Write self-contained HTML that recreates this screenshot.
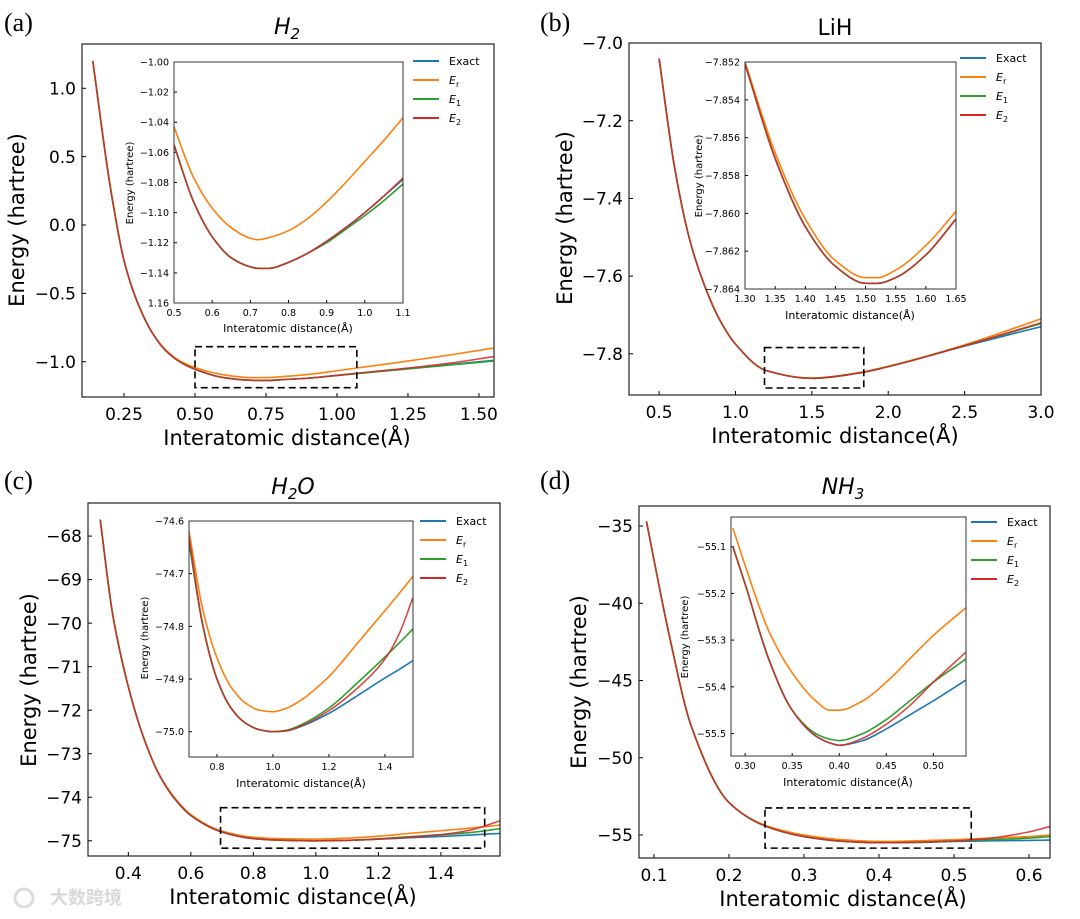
<!DOCTYPE html>
<html><head><meta charset="utf-8">
<style>
html,body{margin:0;padding:0;background:#fff;}
svg{display:block;font-family:"DejaVu Sans","Liberation Sans",sans-serif;}
</style></head>
<body>
<svg id="fig" width="1080" height="919" viewBox="0 0 1080 919" xmlns="http://www.w3.org/2000/svg"></svg>
<script>
// ===== Data: panel (a) H2 =====
const aMainX = [0.14,0.2,0.25,0.3,0.35,0.4,0.45,0.5,0.6,0.7,0.75,0.8,0.9,1.0,1.1,1.2,1.3,1.4,1.55];
const aMainExact = [1.2,0.3,-0.26,-0.58,-0.79,-0.925,-1.005,-1.055,-1.116,-1.136,-1.137,-1.132,-1.12,-1.10,-1.08,-1.06,-1.04,-1.02,-0.99];
const aMainEr = [1.2,0.3,-0.26,-0.58,-0.79,-0.92,-0.998,-1.043,-1.095,-1.117,-1.116,-1.11,-1.093,-1.066,-1.037,-1.01,-0.98,-0.95,-0.90];
const aMainE1 = [1.2,0.3,-0.26,-0.58,-0.79,-0.925,-1.005,-1.055,-1.116,-1.136,-1.137,-1.132,-1.12,-1.10,-1.081,-1.062,-1.043,-1.024,-0.995];
const aMainE2 = [1.2,0.3,-0.26,-0.58,-0.79,-0.925,-1.005,-1.055,-1.116,-1.136,-1.137,-1.132,-1.12,-1.10,-1.078,-1.057,-1.035,-1.01,-0.963];
const aInX = [0.5,0.55,0.6,0.65,0.7,0.72,0.75,0.8,0.85,0.9,0.95,1.0,1.05,1.1];
const aInExact = [-1.055,-1.092,-1.116,-1.130,-1.136,-1.137,-1.137,-1.133,-1.127,-1.119,-1.110,-1.100,-1.089,-1.078];
const aInEr = [-1.043,-1.076,-1.097,-1.110,-1.117,-1.118,-1.1165,-1.112,-1.104,-1.093,-1.080,-1.066,-1.052,-1.037];
const aInE1 = [-1.055,-1.092,-1.116,-1.130,-1.136,-1.137,-1.137,-1.133,-1.127,-1.120,-1.111,-1.102,-1.092,-1.081];
const aInE2 = [-1.055,-1.092,-1.116,-1.130,-1.136,-1.137,-1.137,-1.133,-1.127,-1.119,-1.110,-1.1,-1.089,-1.077];
const aMainXTicks = [0.25,0.5,0.75,1.0,1.25,1.5];
const aMainXLabels = ["0.25","0.50","0.75","1.00","1.25","1.50"];
const aMainYTicks = [1.0,0.5,0.0,-0.5,-1.0];
const aMainYLabels = ["1.0","0.5","0.0","\u22120.5","\u22121.0"];
const aInXTicks = [0.5,0.6,0.7,0.8,0.9,1.0,1.1];
const aInXLabels = ["0.5","0.6","0.7","0.8","0.9","1.0","1.1"];
const aInYTicks = [-1.00,-1.02,-1.04,-1.06,-1.08,-1.10,-1.12,-1.14,-1.16];
const aInYLabels = ["\u22121.00","\u22121.02","\u22121.04","\u22121.06","\u22121.08","\u22121.10","\u22121.12","\u22121.14","1.16"];
const aZoomBox = [0.5,1.07,-1.19,-0.89];

// ===== Data: panel (b) LiH =====
const bMainX = [0.5,0.6,0.7,0.8,0.9,1.0,1.2,1.5,1.8,2.0,2.5,3.0];
const bMainExact = [-7.04,-7.317,-7.506,-7.627,-7.715,-7.775,-7.843,-7.863,-7.85,-7.833,-7.78,-7.73];
const bMainEr = [-7.04,-7.317,-7.506,-7.627,-7.715,-7.775,-7.843,-7.8625,-7.849,-7.832,-7.777,-7.71];
const bMainE1 = [-7.04,-7.317,-7.506,-7.627,-7.715,-7.775,-7.843,-7.863,-7.85,-7.833,-7.779,-7.722];
const bMainE2 = [-7.04,-7.317,-7.506,-7.627,-7.715,-7.775,-7.843,-7.863,-7.85,-7.833,-7.779,-7.72];
const bInX = [1.30,1.35,1.40,1.45,1.50,1.52,1.55,1.60,1.65];
const bInExact = [-7.8521,-7.8571,-7.8607,-7.8628,-7.8637,-7.8637,-7.8634,-7.8622,-7.8603];
const bInEr = [-7.8520,-7.8568,-7.8603,-7.8625,-7.8634,-7.8634,-7.8630,-7.8617,-7.8599];
const bInE1 = [-7.8521,-7.8571,-7.8607,-7.8628,-7.8637,-7.8637,-7.8634,-7.8622,-7.8603];
const bInE2 = [-7.8521,-7.8571,-7.8607,-7.8628,-7.8637,-7.8637,-7.8634,-7.8622,-7.8603];
const bMainXTicks = [0.5,1.0,1.5,2.0,2.5,3.0];
const bMainXLabels = ["0.5","1.0","1.5","2.0","2.5","3.0"];
const bMainYTicks = [-7.0,-7.2,-7.4,-7.6,-7.8];
const bMainYLabels = ["\u22127.0","\u22127.2","\u22127.4","\u22127.6","\u22127.8"];
const bInXTicks = [1.30,1.35,1.40,1.45,1.50,1.55,1.60,1.65];
const bInXLabels = ["1.30","1.35","1.40","1.45","1.50","1.55","1.60","1.65"];
const bInYTicks = [-7.852,-7.854,-7.856,-7.858,-7.860,-7.862,-7.864];
const bInYLabels = ["\u22127.852","\u22127.854","\u22127.856","\u22127.858","\u22127.860","\u22127.862","\u22127.864"];
const bZoomBox = [1.19,1.84,-7.888,-7.784];

// ===== Data: panel (c) H2O =====
const cMainX = [0.31,0.35,0.4,0.45,0.5,0.55,0.6,0.7,0.8,0.9,1.0,1.1,1.2,1.3,1.4,1.5,1.59];
const cMainExact = [-67.62,-69.8,-71.46,-72.65,-73.5,-74.05,-74.42,-74.8,-74.95,-74.99,-75.0,-74.99,-74.965,-74.93,-74.9,-74.865,-74.83];
const cMainEr = [-67.62,-69.8,-71.46,-72.65,-73.49,-74.03,-74.4,-74.78,-74.92,-74.955,-74.962,-74.94,-74.895,-74.83,-74.77,-74.705,-74.64];
const cMainE1 = [-67.62,-69.8,-71.46,-72.65,-73.5,-74.05,-74.42,-74.8,-74.95,-74.99,-75.0,-74.99,-74.955,-74.905,-74.86,-74.805,-74.72];
const cMainE2 = [-67.62,-69.8,-71.46,-72.65,-73.5,-74.05,-74.42,-74.8,-74.95,-74.99,-75.0,-74.99,-74.96,-74.915,-74.86,-74.745,-74.54];
const cInX = [0.7,0.75,0.8,0.85,0.9,0.95,1.0,1.05,1.1,1.2,1.3,1.4,1.45,1.5];
const cInExact = [-74.64,-74.80,-74.90,-74.955,-74.983,-74.996,-75.0,-74.998,-74.99,-74.965,-74.932,-74.898,-74.882,-74.865];
const cInEr = [-74.62,-74.77,-74.86,-74.915,-74.945,-74.959,-74.962,-74.955,-74.94,-74.895,-74.833,-74.77,-74.738,-74.705];
const cInE1 = [-74.64,-74.80,-74.90,-74.955,-74.983,-74.996,-75.0,-74.997,-74.987,-74.955,-74.908,-74.858,-74.832,-74.805];
const cInE2 = [-74.63,-74.80,-74.90,-74.955,-74.983,-74.996,-75.0,-74.998,-74.989,-74.96,-74.918,-74.862,-74.815,-74.745];
const cMainXTicks = [0.4,0.6,0.8,1.0,1.2,1.4];
const cMainXLabels = ["0.4","0.6","0.8","1.0","1.2","1.4"];
const cMainYTicks = [-68,-69,-70,-71,-72,-73,-74,-75];
const cMainYLabels = ["\u221268","\u221269","\u221270","\u221271","\u221272","\u221273","\u221274","\u221275"];
const cInXTicks = [0.8,1.0,1.2,1.4];
const cInXLabels = ["0.8","1.0","1.2","1.4"];
const cInYTicks = [-74.6,-74.7,-74.8,-74.9,-75.0];
const cInYLabels = ["\u221274.6","\u221274.7","\u221274.8","\u221274.9","\u221275.0"];
const cZoomBox = [0.695,1.54,-75.17,-74.24];

// ===== Data: panel (d) NH3 =====
const dMainX = [0.09,0.1,0.12,0.15,0.2,0.25,0.3,0.35,0.4,0.45,0.5,0.55,0.6,0.628];
const dMainExact = [-34.7,-37.2,-42.0,-48.0,-52.9,-54.45,-55.1,-55.4,-55.5,-55.48,-55.42,-55.38,-55.35,-55.33];
const dMainEr = [-34.7,-37.2,-42.0,-48.0,-52.9,-54.4,-55.0,-55.3,-55.42,-55.38,-55.3,-55.2,-55.1,-55.0];
const dMainE1 = [-34.7,-37.2,-42.0,-48.0,-52.9,-54.45,-55.1,-55.4,-55.5,-55.47,-55.39,-55.3,-55.2,-55.1];
const dMainE2 = [-34.7,-37.2,-42.0,-48.0,-52.9,-54.45,-55.1,-55.4,-55.5,-55.47,-55.39,-55.2,-54.8,-54.45];
const dInX = [0.287,0.30,0.325,0.35,0.375,0.39,0.40,0.425,0.45,0.475,0.50,0.535];
const dInExact = [-55.10,-55.18,-55.34,-55.45,-55.505,-55.52,-55.525,-55.515,-55.49,-55.46,-55.43,-55.385];
const dInEr = [-55.06,-55.14,-55.28,-55.37,-55.43,-55.45,-55.45,-55.43,-55.39,-55.34,-55.29,-55.23];
const dInE1 = [-55.10,-55.18,-55.34,-55.45,-55.50,-55.512,-55.515,-55.50,-55.47,-55.43,-55.39,-55.34];
const dInE2 = [-55.10,-55.18,-55.34,-55.45,-55.505,-55.52,-55.525,-55.51,-55.48,-55.44,-55.39,-55.325];
const dMainXTicks = [0.1,0.2,0.3,0.4,0.5,0.6];
const dMainXLabels = ["0.1","0.2","0.3","0.4","0.5","0.6"];
const dMainYTicks = [-35,-40,-45,-50,-55];
const dMainYLabels = ["\u221235","\u221240","\u221245","\u221250","\u221255"];
const dInXTicks = [0.30,0.35,0.40,0.45,0.50];
const dInXLabels = ["0.30","0.35","0.40","0.45","0.50"];
const dInYTicks = [-55.1,-55.2,-55.3,-55.4,-55.5];
const dInYLabels = ["\u221255.1","\u221255.2","\u221255.3","\u221255.4","\u221255.5"];
const dZoomBox = [0.248,0.523,-55.85,-53.25];

const seriesNames = ["Exact","Er","E1","E2"];
const colors = ["#1f77b4","#ff7f0e","#2ca02c","#d62728"];

const NS = "http://www.w3.org/2000/svg";
const svg = document.getElementById("fig");
function el(tag, attrs, parent, text){
  const e = document.createElementNS(NS, tag);
  for (const k in attrs) e.setAttribute(k, attrs[k]);
  if (text !== undefined) e.textContent = text;
  (parent || svg).appendChild(e);
  return e;
}
function scale(d0,d1,r0,r1){ return v => r0 + (v-d0)/(d1-d0)*(r1-r0); }
// monotone cubic (Fritsch-Carlson) in screen space for smooth, overshoot-free curves
function smoothPath(pts){
  const n = pts.length;
  const dx=[], m=[], t=[];
  for (let i=0;i<n-1;i++){ dx.push(pts[i+1][0]-pts[i][0]); m.push((pts[i+1][1]-pts[i][1])/dx[i]); }
  t[0]=m[0]; t[n-1]=m[n-2];
  for (let i=1;i<n-1;i++){
    if (m[i-1]*m[i]<=0) t[i]=0;
    else { const w1=2*dx[i]+dx[i-1], w2=dx[i]+2*dx[i-1]; t[i]=(w1+w2)/(w1/m[i-1]+w2/m[i]); }
  }
  let d = "M"+pts[0][0].toFixed(2)+","+pts[0][1].toFixed(2);
  for (let i=0;i<n-1;i++){
    const h=dx[i];
    const c1=[pts[i][0]+h/3, pts[i][1]+t[i]*h/3];
    const c2=[pts[i+1][0]-h/3, pts[i+1][1]-t[i+1]*h/3];
    d += " C"+c1[0].toFixed(2)+","+c1[1].toFixed(2)+" "+c2[0].toFixed(2)+","+c2[1].toFixed(2)+" "+pts[i+1][0].toFixed(2)+","+pts[i+1][1].toFixed(2);
  }
  return d;
}

function drawAxes(g, box, dom, xt, xl, yt, yl, opt, prefix){
  const sx = scale(dom[0],dom[1],box[0],box[2]);
  const sy = scale(dom[2],dom[3],box[3],box[1]);
  const clipId = prefix+"-clip";
  const cp = el("clipPath",{id:clipId},g);
  el("rect",{x:box[0],y:box[1],width:box[2]-box[0],height:box[3]-box[1]},cp);
  const tl = opt.tick;
  xt.forEach((v,i)=>{
    const x = sx(v);
    const t = el("line",{x1:x,x2:x,y1:box[3],y2:box[3]-tl,stroke:"#000","stroke-width":1},g);
    
    
    const lb = el("text",{x:x,y:box[3]+opt.xlOff,"font-size":opt.fs,"text-anchor":"middle",fill:"#000"},g,xl[i]);
    
    
  });
  yt.forEach((v,i)=>{
    const y = sy(v);
    const t = el("line",{x1:box[0],x2:box[0]+tl,y1:y,y2:y,stroke:"#000","stroke-width":1},g);
    
    
    const lb = el("text",{x:box[0]-opt.ylOff,y:y+opt.fs*0.36,"font-size":opt.fs,"text-anchor":"end",fill:"#000"},g,yl[i]);
    
    
  });
  return {sx, sy, clipId};
}

function drawSeries(g, ax, xs, ys, idx, prefix, w){
  const pts = xs.map((x,i)=>[ax.sx(x), ax.sy(ys[i])]);
  const p = el("path",{d:smoothPath(pts),fill:"none",stroke:colors[idx],"stroke-width":w,"clip-path":"url(#"+ax.clipId+")","stroke-linejoin":"round"},g);
  if (idx===3) p.setAttribute("stroke-opacity","0.85");
  
  
}

function legend(g, x, y0, dy, prefix){
  const labels = [["Exact",""],["E","r"],["E","1"],["E","2"]];
  labels.forEach((lab,i)=>{
    const y = y0 + i*dy;
    const ln = el("line",{x1:x,x2:x+26,y1:y,y2:y,stroke:colors[i],"stroke-width":2},g);
    
    
    const t = el("text",{x:x+36,y:y+4,"font-size":11,fill:"#000"},g);
    
    
    if (lab[1]===""){ t.textContent = lab[0]; }
    else {
      el("tspan",{"font-style":"italic"},t,lab[0]);
      el("tspan",{"font-size":8,dy:3},t,lab[1]);
    }
  });
}

function panel(cfg){
  const g = el("g",{});
  
  
  const pl = el("text",{x:cfg.letterPos[0],y:cfg.letterPos[1],"font-size":26,"font-family":"'Liberation Serif',serif",fill:"#000"},g,cfg.letter);
  
  
  const tt = el("text",{x:cfg.titlePos[0],y:cfg.titlePos[1],"font-size":22,"text-anchor":"middle",fill:"#000"},g);
  
  
  cfg.title.forEach(part=>{
    el("tspan",part.sub?{"font-size":15,dy:5,"font-style":cfg.italic?"italic":"normal"}:{"font-style":cfg.italic?"italic":"normal",dy:part.back?-5:0},tt,part.t);
  });
  const mb = cfg.mainBox;
  const ax = drawAxes(g, mb, cfg.mainDom, cfg.mxt, cfg.mxl, cfg.myt, cfg.myl, {tick:4,fs:17,xlOff:23,ylOff:6}, cfg.name+'-main');
  for (let i=0;i<4;i++) drawSeries(g, ax, cfg.mainX, cfg.mainY[i], i, cfg.name+'-main', 1.6);
  const fr = el("rect",{x:mb[0],y:mb[1],width:mb[2]-mb[0],height:mb[3]-mb[1],fill:"none",stroke:"#222","stroke-width":1.2},g);
  
  
  const zb = cfg.zoom;
  const zr = el("rect",{x:ax.sx(zb[0]),y:ax.sy(zb[3]),width:ax.sx(zb[1])-ax.sx(zb[0]),height:ax.sy(zb[2])-ax.sy(zb[3]),fill:"none",stroke:"#000","stroke-width":1.6,"stroke-dasharray":"7,4"},g);
  
  
  const xlab = el("text",{x:cfg.xlabPos[0],y:cfg.xlabPos[1],"font-size":21,"text-anchor":"middle",fill:"#000"},g,"Interatomic distance(\u00c5)");
  
  
  const ylab = el("text",{x:0,y:0,"font-size":21,"text-anchor":"middle",fill:"#000",transform:"translate("+cfg.ylabPos[0]+","+cfg.ylabPos[1]+") rotate(-90)"},g,"Energy (hartree)");
  
  
  const ib = cfg.inBox;
  const bg = el("rect",{x:ib[0],y:ib[1],width:ib[2]-ib[0],height:ib[3]-ib[1],fill:"#fff"},g);
  
  
  const ax2 = drawAxes(g, ib, cfg.inDom, cfg.ixt, cfg.ixl, cfg.iyt, cfg.iyl, {tick:3,fs:9.5,xlOff:13,ylOff:5}, cfg.name+'-inset');
  for (let i=0;i<4;i++) drawSeries(g, ax2, cfg.inX, cfg.inY[i], i, cfg.name+'-inset', 1.6);
  const fr2 = el("rect",{x:ib[0],y:ib[1],width:ib[2]-ib[0],height:ib[3]-ib[1],fill:"none",stroke:"#333","stroke-width":1},g);
  
  
  const ixl = el("text",{x:cfg.ixlabPos[0],y:cfg.ixlabPos[1],"font-size":11,"text-anchor":"middle",fill:"#000"},g,"Interatomic distance(\u00c5)");
  
  
  const iyl = el("text",{x:0,y:0,"font-size":10,"text-anchor":"middle",fill:"#000",transform:"translate("+cfg.iylabPos[0]+","+cfg.iylabPos[1]+") rotate(-90)"},g,"Energy (hartree)");
  
  
  legend(g, cfg.legend[0], cfg.legend[1], 19, cfg.name);
}

panel({name:"panel-a-h2", letter:"(a)", letterPos:[4,31], title:[{t:"H"},{t:"2",sub:true}], italic:true, titlePos:[287,34],
  mainBox:[82,44,494,397], mainDom:[0.102,1.553,-1.258,1.324],
  mxt:aMainXTicks,mxl:aMainXLabels,myt:aMainYTicks,myl:aMainYLabels,
  mainX:aMainX, mainY:[aMainExact,aMainEr,aMainE1,aMainE2], zoom:aZoomBox,
  xlabPos:[287,445], ylabPos:[24,220],
  inBox:[174,62,403,303], inDom:[0.5,1.1,-1.16,-1.00],
  ixt:aInXTicks,ixl:aInXLabels,iyt:aInYTicks,iyl:aInYLabels,
  inX:aInX, inY:[aInExact,aInEr,aInE1,aInE2],
  ixlabPos:[288,332], iylabPos:[133,183], legend:[413,61]});

panel({name:"panel-b-lih", letter:"(b)", letterPos:[540,31], title:[{t:"LiH"}], italic:false, titlePos:[835,35],
  mainBox:[629,43,1041,395], mainDom:[0.303,3.0,-7.906,-7.0],
  mxt:bMainXTicks,mxl:bMainXLabels,myt:bMainYTicks,myl:bMainYLabels,
  mainX:bMainX, mainY:[bMainExact,bMainEr,bMainE1,bMainE2], zoom:bZoomBox,
  xlabPos:[835,443], ylabPos:[572,218],
  inBox:[745,62,956,289], inDom:[1.30,1.65,-7.864,-7.852],
  ixt:bInXTicks,ixl:bInXLabels,iyt:bInYTicks,iyl:bInYLabels,
  inX:bInX, inY:[bInExact,bInEr,bInE1,bInE2],
  ixlabPos:[850,319], iylabPos:[702,176], legend:[960,58]});

panel({name:"panel-c-h2o", letter:"(c)", letterPos:[4,489], title:[{t:"H"},{t:"2",sub:true},{t:"O",back:true}], italic:true, titlePos:[293,494],
  mainBox:[88,503,500,856], mainDom:[0.271,1.589,-75.35,-67.24],
  mxt:cMainXTicks,mxl:cMainXLabels,myt:cMainYTicks,myl:cMainYLabels,
  mainX:cMainX, mainY:[cMainExact,cMainEr,cMainE1,cMainE2], zoom:cZoomBox,
  xlabPos:[293,904], ylabPos:[36,680],
  inBox:[189,521,413,757], inDom:[0.7,1.5,-75.048,-74.6],
  ixt:cInXTicks,ixl:cInXLabels,iyt:cInYTicks,iyl:cInYLabels,
  inX:cInX, inY:[cInExact,cInEr,cInE1,cInE2],
  ixlabPos:[301,787], iylabPos:[148,638], legend:[420,521]});

panel({name:"panel-d-nh3", letter:"(d)", letterPos:[540,489], title:[{t:"NH"},{t:"3",sub:true}], italic:true, titlePos:[843,494],
  mainBox:[639,506,1050,858], mainDom:[0.08,0.628,-56.49,-33.7],
  mxt:dMainXTicks,mxl:dMainXLabels,myt:dMainYTicks,myl:dMainYLabels,
  mainX:dMainX, mainY:[dMainExact,dMainEr,dMainE1,dMainE2], zoom:dZoomBox,
  xlabPos:[843,906], ylabPos:[586,682],
  inBox:[731,517,966,756], inDom:[0.285,0.5347,-55.548,-55.0365],
  ixt:dInXTicks,ixl:dInXLabels,iyt:dInYTicks,iyl:dInYLabels,
  inX:dInX, inY:[dInExact,dInEr,dInE1,dInE2],
  ixlabPos:[848,786], iylabPos:[688,637], legend:[971,522]});

const wm = el("text",{x:50,y:904,"font-size":18,fill:"#d8d8d8","font-family":"'Liberation Sans','Noto Sans CJK SC',sans-serif","font-weight":"bold"},svg,"\u5927\u6570\u8de8\u5883");


const wmc = el("circle",{cx:24,cy:898,r:9,fill:"none",stroke:"#dcdcdc","stroke-width":3},svg);


</script>
</body></html>
